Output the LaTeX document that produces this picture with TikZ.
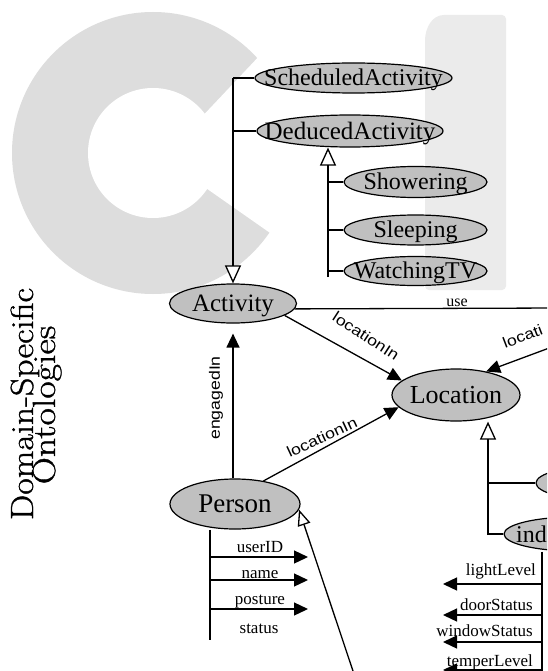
\documentclass[tikz,border=0pt]{standalone}
\usepackage{fontspec}
\usetikzlibrary{shapes.geometric,arrows.meta,calc}
\newfontfamily\nodefont{Liberation Serif}
\newfontfamily\labfont{Liberation Sans}
\newfontfamily\titlefont[FakeBold=1.0]{Latin Modern Roman}
\definecolor{cgray}{RGB}{221,221,221}
\definecolor{rgray}{RGB}{235,235,235}
\definecolor{efill}{RGB}{192,192,192}
\newcommand\ctext[2]{{\fontsize{#1}{#1}\nodefont\raisebox{-0.33em}[0pt][0pt]{\makebox[0pt]{#2}}}}
\newcommand\rtext[1]{\scalebox{1.18}[1]{#1}}
\tikzset{
  ell/.style={ellipse, draw=black, fill=efill, line width=1.2pt, inner sep=0pt},
  link/.style={line width=1.3pt},
  arr/.style={link, -{Triangle[length=14pt,width=13pt]}},
  inh/.style={link, -{Triangle[open, fill=white, length=18pt, width=16pt]}},
  inhp/.style={link, -{Triangle[open, fill=white, length=16pt, width=13pt]}},
  attr/.style={font=\fontsize{17}{17}\selectfont\nodefont, inner sep=0pt},
  rel/.style={font=\fontsize{15}{15}\selectfont\labfont, inner sep=0pt},
  ttl/.style={rotate=90, anchor=base, inner sep=0pt, font=\fontsize{32}{32}\selectfont\titlefont},
}
\begin{document}
\begin{tikzpicture}[x=1pt, y=-1pt]
\useasboundingbox (0,0) rectangle (547,671);
\clip (0,0) rectangle (547,671);
\fill[white] (0,0) rectangle (547,671);
% background logo shapes
\fill[cgray] (153,153) circle[radius=141pt];
\fill[white] (153,153) circle[radius=65pt];
\fill[white] (163,158) -- (313,-1) -- (420,-1) -- (420,300) -- (343,284) -- cycle;
\fill[rgray, rounded corners=4pt] (425,290) -- (425,45) .. controls (425,28) and (432,15) .. (448,15) -- (506,15) -- (506,290) -- cycle;

% side title
\node[ttl] (t1) at (33,404) {\scalebox{1.12}[1]{Domain-Specific}};
\node[ttl] (t2) at (55,405) {\scalebox{1.18}[1]{Ontologies}};

% class nodes
\node[ell, minimum width=197pt, minimum height=30pt] (sched) at (353.5,78) {\ctext{24}{ScheduledActivity}};
\node[ell, minimum width=186pt, minimum height=32pt] (ded) at (350,131) {\ctext{25}{DeducedActivity}};
\node[ell, minimum width=143pt, minimum height=31pt] (show) at (415.5,182) {\ctext{24}{Showering}};
\node[ell, minimum width=143pt, minimum height=30pt] (sleep) at (415.5,230) {\ctext{24}{Sleeping}};
\node[ell, minimum width=143pt, minimum height=29pt] (watch) at (415.5,271) {\ctext{24}{WatchingTV}};
\node[ell, minimum width=127pt, minimum height=39pt] (act) at (233,303.5) {\ctext{25}{Activity}};
\node[ell, minimum width=128pt, minimum height=52pt] (loc) at (456,395) {\ctext{26}{Location}};
\node[ell, minimum width=130pt, minimum height=50pt] (per) at (235,504) {\ctext{27}{Person}};
\node[ell, minimum width=128pt, minimum height=34pt] (outd) at (600,483) {};
\node[ell, minimum width=140pt, minimum height=34pt] (ind) at (574,534) {};
\node[anchor=base west, inner sep=0pt, font=\fontsize{24}{24}\selectfont\nodefont] (indt) at (516,542) {ind};

% activity hierarchy
\draw[link] (sched.west) -- (sched.west -| act.north);
\draw[link] (ded.west) -- (ded.west -| act.north);
\draw[inh] (sched.west -| act.north) -- (act.north);
\coordinate (dv) at (328,277);
\draw[inh] (dv) -- (dv |- ded.south);
\draw[link] (show.west -| dv) -- (show.west);
\draw[link] (sleep.west -| dv) -- (sleep.west);
\draw[link] (watch.west -| dv) -- (watch.west);

% relations
\coordinate (useEnd) at (560,308);
\draw[link] (act.-5) -- (useEnd);
\node[attr, font=\fontsize{16}{16}\selectfont\nodefont, anchor=base] (usel) at (457,306) {use};
\draw[arr] (act.-13) -- (loc.165);
\node[rel, rotate=-33] (l1) at (366,336) {\rtext{locationIn}};
\draw[arr, shorten >=10pt] (per.north -| act.south) -- (act.south);
\node[rel, rotate=90] (eng) at (216,398) {\rtext{engagedIn}};
\draw[arr] (per.39) -- (loc.192);
\node[rel, rotate=25] (l2) at (322,437) {\rtext{locationIn}};
\coordinate (locEnd) at (560,344);
\draw[arr] (locEnd) -- (loc.38);
\node[rel, rotate=21, anchor=base west] (l3) at (505,349) {\rtext{locati}};

% location hierarchy
\coordinate (lv) at (488,535);
\draw[inh] (lv) -- (lv |- loc.south);
\draw[link] (outd.west -| lv) -- (outd.west);
\draw[link] (ind.west -| lv) -- (ind.west);

% person hierarchy
\coordinate (pb) at (356,680);
\draw[inhp] (pb) -- (per.-5);

% person attributes
\coordinate (pa) at (210,640);
\draw[link] (per.south -| pa) -- (pa);
\coordinate (u1) at (210,557); \coordinate (u1e) at (308,557);
\coordinate (u2) at (210,580); \coordinate (u2e) at (308,580);
\coordinate (u3) at (210,609); \coordinate (u3e) at (308,609);
\draw[arr] (u1) -- (u1e);
\draw[arr] (u2) -- (u2e);
\draw[arr] (u3) -- (u3e);
\node[attr, anchor=base] (pa1) at (260,552) {userID};
\node[attr, anchor=base] (pa2) at (260,578) {name};
\node[attr, anchor=base] (pa3) at (260,604) {posture};
\node[attr, anchor=base] (pa4) at (259,633) {status};

% indoor attributes
\coordinate (rv) at (542,680);
\draw[link] (ind.south -| rv) -- (rv);
\coordinate (r1) at (542,584); \coordinate (r1e) at (443,584);
\coordinate (r2) at (542,615); \coordinate (r2e) at (443,615);
\coordinate (r3) at (542,642); \coordinate (r3e) at (443,642);
\coordinate (r4) at (542,670); \coordinate (r4e) at (443,670);
\draw[arr] (r1) -- (r1e);
\draw[arr] (r2) -- (r2e);
\draw[arr] (r3) -- (r3e);
\draw[arr] (r4) -- (r4e);
\node[attr, anchor=base east] (ia1) at (536,575) {lightLevel};
\node[attr, anchor=base east] (ia2) at (533,610) {doorStatus};
\node[attr, anchor=base east] (ia3) at (533,636) {windowStatus};
\node[attr, anchor=base east] (ia4) at (533,666) {temperLevel};
\end{tikzpicture}
\end{document}
